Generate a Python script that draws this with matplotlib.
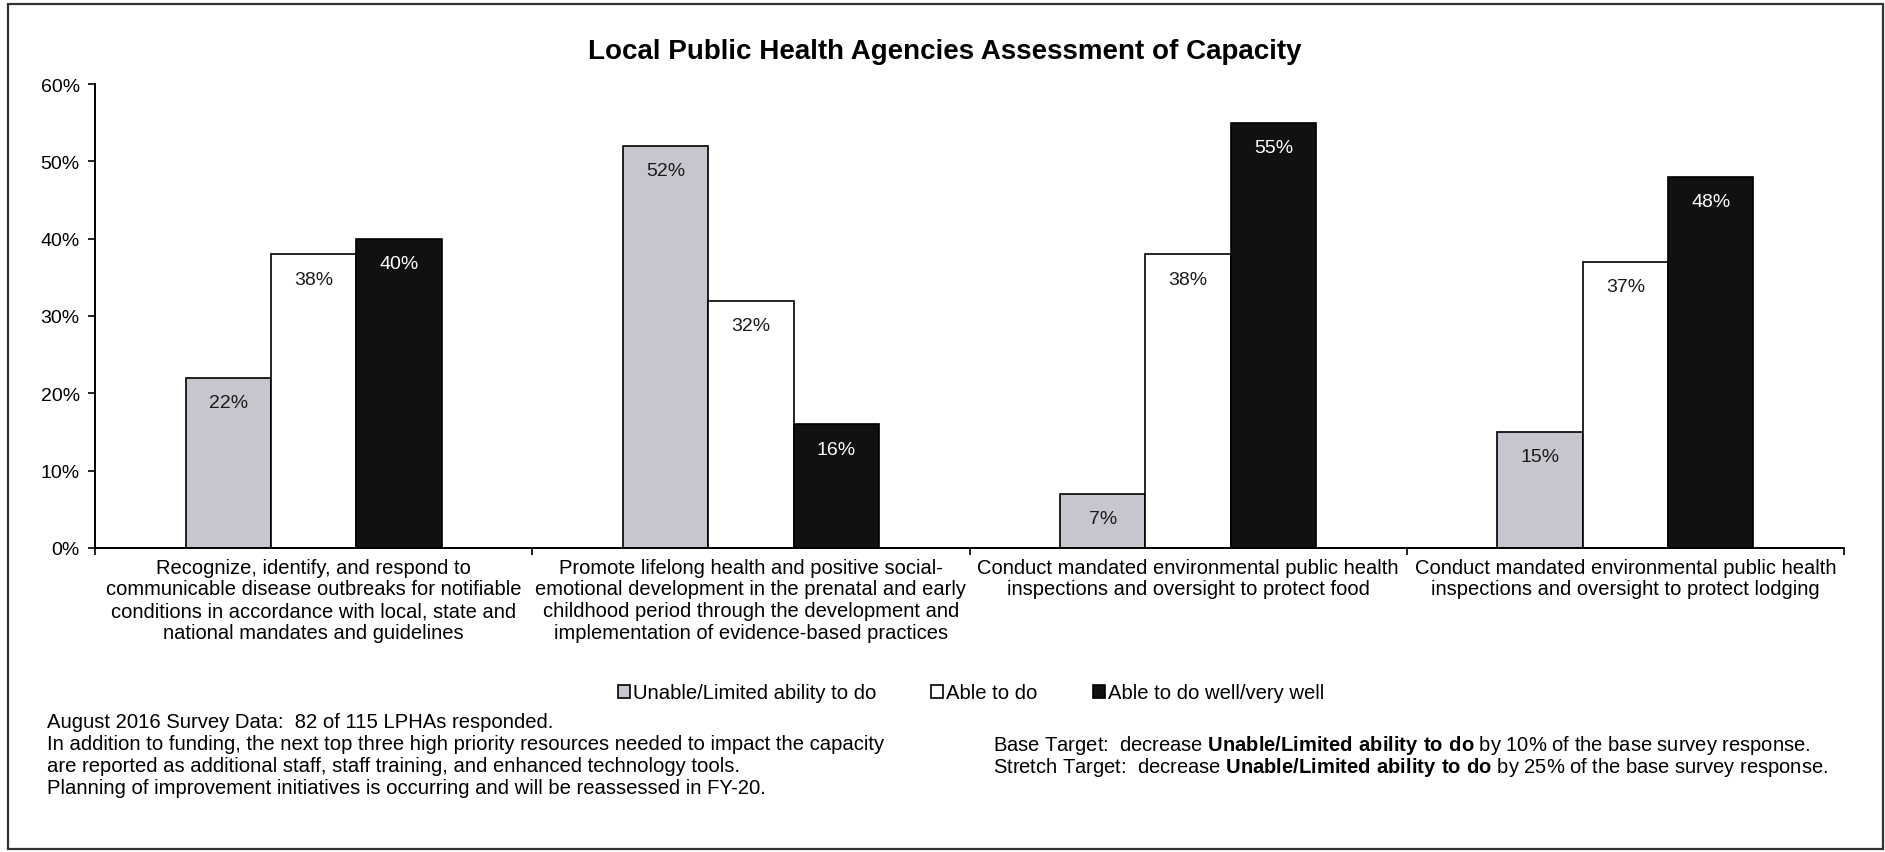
import matplotlib
matplotlib.use('Agg')
import matplotlib.pyplot as plt
import numpy as np
from matplotlib.patches import Rectangle

# 폰트 설정 (굵은 글씨 부분은 mathtext로 처리)
plt.rcParams['font.family'] = ['Liberation Sans', 'DejaVu Sans']
plt.rcParams['mathtext.fontset'] = 'custom'
plt.rcParams['mathtext.rm'] = 'Liberation Sans'
plt.rcParams['mathtext.bf'] = 'Liberation Sans:bold'

# 데이터
categories = [
    'Recognize, identify, and respond to\ncommunicable disease outbreaks for notifiable\n'
    'conditions in accordance with local, state and\nnational mandates and guidelines',
    'Promote lifelong health and positive social-\nemotional development in the prenatal and early\n'
    'childhood period through the development and\nimplementation of evidence-based practices',
    'Conduct mandated environmental public health\ninspections and oversight to protect food',
    'Conduct mandated environmental public health\ninspections and oversight to protect lodging',
]
series_names = ['Unable/Limited ability to do', 'Able to do', 'Able to do well/very well']
unable = [22, 52, 7, 15]
able = [38, 32, 38, 37]
able_well = [40, 16, 55, 48]
y_ticks = [0, 10, 20, 30, 40, 50, 60]

title = 'Local Public Health Agencies Assessment of Capacity'
notes_left = [
    'August 2016 Survey Data:  82 of 115 LPHAs responded.',
    'In addition to funding, the next top three high priority resources needed to impact the capacity',
    'are reported as additional staff, staff training, and enhanced technology tools.',
    'Planning of improvement initiatives is occurring and will be reassessed in FY-20.',
]
notes_right = [
    r'Base Target:  decrease $\mathbf{Unable/Limited\ ability\ to\ do}$ by 10% of the base survey response.',
    r'Stretch Target:  decrease $\mathbf{Unable/Limited\ ability\ to\ do}$ by 25% of the base survey response.',
]

W, H = 1885, 853
fig = plt.figure(figsize=(W / 100, H / 100), dpi=100)
ax = fig.add_axes([95 / W, (H - 549) / H, (1844 - 95) / W, (549 - 85) / H])

# 막대 그래프
x = np.arange(len(categories)) + 0.5
w = 0.195
colors = ['#c6c6ce', 'white', '#111111']
label_colors = ['#1a1a1a', '#1a1a1a', 'white']
for i, vals in enumerate([unable, able, able_well]):
    bars = ax.bar(x + (i - 1) * w, vals, w, color=colors[i], edgecolor='black',
                  linewidth=1.2, label=series_names[i])
    for b, v in zip(bars, vals):
        ax.annotate(f'{v}%', (b.get_x() + b.get_width() / 2, v), xytext=(0, -18),
                    textcoords='offset points', ha='center', va='center',
                    fontsize=14, color=label_colors[i])

# 축 설정
ax.set_xlim(0, len(categories))
ax.set_ylim(0, 60)
ax.set_yticks(y_ticks)
ax.set_yticklabels([f'{t}%' for t in y_ticks])
ax.set_xticks(np.arange(len(categories) + 1))
ax.set_xticklabels([])
ax.set_xticks(x, minor=True)
ax.set_xticklabels(categories, minor=True, fontsize=14.5, linespacing=1.18)
ax.tick_params(axis='x', which='minor', length=0, pad=7)
ax.tick_params(axis='x', which='major', length=5, width=1.2)
ax.tick_params(axis='y', length=5, width=1.2, labelsize=14, pad=6)
for s in ['top', 'right']:
    ax.spines[s].set_visible(False)
for s in ['left', 'bottom']:
    ax.spines[s].set_linewidth(1.4)

# 제목, 범례
fig.text(945 / W, 1 - 52 / H, title, ha='center', va='center', fontsize=20, fontweight='bold')
handles, labels = ax.get_legend_handles_labels()
fig.legend(handles, labels, loc='center', bbox_to_anchor=(971 / W, 1 - 694 / H), ncol=3,
           frameon=False, fontsize=14.6, handlelength=0.6, handleheight=0.6,
           handletextpad=0.15, columnspacing=2.7)

# 하단 설명
for i, line in enumerate(notes_left):
    fig.text(47 / W, 1 - (723 + i * 21.7) / H, line, va='center', fontsize=14.6)
for i, line in enumerate(notes_right):
    fig.text(993 / W, 1 - (746 + i * 21.5) / H, line, va='center', fontsize=14.5)

# 외곽 테두리
fig.add_artist(Rectangle((8 / W, 3 / H), (1883 - 8) / W, (850 - 5) / H, transform=fig.transFigure,
                         fill=False, edgecolor='#333333', linewidth=1.6))

fig.savefig('out.png', dpi=100)
